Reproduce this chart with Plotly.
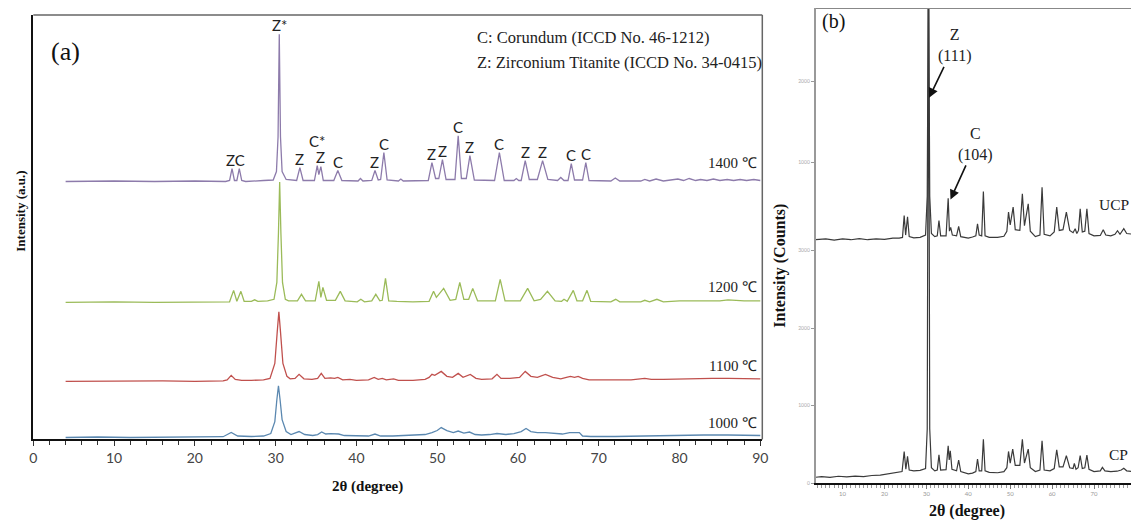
import plotly.graph_objects as go

# ---------------- DATA ----------------
# Panel (a): XRD patterns, (2theta, intensity above the pattern's own baseline, a.u.)
xrd_1400 = [(4, 0), (10, 0.5), (15, 0), (20, 0.5), (23.8, 0), (24.3, 1), (24.6, 13), (24.9, 1), (25.2, 1),
            (25.5, 13), (25.8, 1), (26.3, 0), (28.5, 1), (29.7, 1.5), (30.1, 10), (30.3, 45), (30.45, 148),
            (30.6, 45), (30.8, 10), (31.3, 2), (32.6, 1), (33.0, 14), (33.4, 1), (34.8, 1), (35.15, 16),
            (35.35, 7), (35.6, 15), (35.9, 1), (37.2, 1), (37.7, 11), (38.2, 1), (40.2, 0.5), (40.5, 3),
            (40.8, 0.5), (41.9, 1), (42.3, 11), (42.7, 1.5), (43.0, 2), (43.4, 29), (43.8, 1.5), (45.2, 0.5),
            (45.5, 2.5), (45.8, 0.5), (48.9, 1), (49.35, 19), (49.8, 3), (50.2, 3), (50.65, 22), (51.1, 2),
            (52.2, 2), (52.6, 46), (53.0, 3), (53.6, 3), (54.05, 26), (54.6, 1.5), (57.1, 1), (57.7, 29),
            (58.3, 1), (59.5, 1), (59.8, 3), (60.1, 1), (60.4, 1), (60.9, 21), (61.4, 2), (62.4, 2),
            (63.05, 21), (63.7, 2), (64.9, 1), (65.3, 4), (65.7, 1), (66.2, 1), (66.6, 18), (67.0, 1.5),
            (68.0, 1.5), (68.4, 19), (68.8, 1), (71.5, 0.5), (72.05, 3.5), (72.6, 0.5), (75.2, 0.5), (75.7, 2),
            (76.3, 0.5), (77.1, 2.5), (78.0, 0.5), (79.8, 2.5), (80.5, 1), (81.2, 3), (82.0, 1), (82.6, 2),
            (83.4, 1), (84.2, 2.5), (85.0, 1), (85.9, 2), (86.7, 1), (87.5, 2), (88.3, 1), (89.2, 2), (90, 1)]

xrd_1200 = [(4, 0), (10, 0.5), (15, 0), (20, 0.5), (24.3, 0.5), (24.8, 12), (25.2, 1), (25.7, 11), (26.1, 1),
            (27.0, 1), (27.4, 2.5), (27.8, 1), (29.0, 1.5), (29.8, 3), (30.15, 20), (30.35, 70), (30.5, 121),
            (30.65, 70), (30.85, 20), (31.2, 3), (31.6, 1.5), (32.7, 1.5), (33.2, 8), (33.7, 1.5), (34.9, 1.5),
            (35.35, 21), (35.6, 5), (35.85, 15), (36.3, 2), (37.4, 2), (38.0, 11), (38.6, 1.5), (40.1, 0.5),
            (40.55, 3), (41.0, 0.5), (41.9, 1.5), (42.4, 8), (42.9, 1.5), (43.2, 2), (43.6, 24), (44.0, 1.5),
            (45, 1), (47, 0.5), (49.0, 1), (49.55, 11), (49.9, 5), (50.8, 14), (51.6, 2), (52.3, 3), (52.8, 20),
            (53.3, 3), (53.9, 3), (54.4, 14), (55.0, 1.5), (57.2, 1.5), (57.8, 23), (58.4, 1.5), (60.3, 1.5),
            (61.2, 14), (62.0, 1.5), (62.8, 3), (63.65, 11), (64.6, 1.5), (65.4, 1), (65.7, 3), (66.1, 1),
            (66.85, 12), (67.3, 1.5), (68.0, 1.5), (68.55, 12), (69.0, 1), (71.5, 0.5), (72.1, 3), (72.6, 0.5),
            (75.2, 0.5), (75.7, 2), (76.3, 0.5), (77.2, 3), (78.0, 0.5), (80, 1.5), (82, 1.5), (83, 2),
            (85, 1.5), (86, 2.5), (88, 1.5), (90, 1.5)]

xrd_1100 = [(4, 0), (8, 0.3), (12, 0), (16, 0.5), (20, 0), (23.5, 0.5), (24.0, 1.5), (24.5, 6), (25.0, 2),
            (25.8, 1), (27, 1), (28.5, 1.5), (29.3, 3), (29.9, 18), (30.2, 50), (30.4, 70), (30.6, 50),
            (30.9, 18), (31.4, 5), (31.8, 2.5), (32.4, 3), (32.9, 7), (33.5, 2.5), (34.5, 2), (35.2, 3),
            (35.65, 8), (36.1, 3), (36.8, 3.5), (37.3, 3), (37.7, 4), (38.3, 1.5), (39.2, 2), (40, 1),
            (41.5, 1.5), (42.2, 4), (42.7, 2), (43.2, 3), (43.7, 1.5), (44.6, 2.5), (45.2, 1), (47, 1),
            (48.5, 2), (49.0, 4), (49.35, 7), (49.7, 6), (50.5, 10), (51.2, 5), (51.9, 4), (52.6, 8), (53.2, 4),
            (54.1, 7), (54.8, 3), (55.5, 2), (56.8, 2.5), (57.4, 7), (57.9, 3), (59, 3), (60.2, 4), (60.9, 10),
            (61.6, 5), (62.4, 4), (63.4, 7), (64.3, 4), (65.3, 2.5), (66.0, 4), (66.5, 5), (67.0, 4),
            (67.45, 5), (68.0, 3), (68.8, 1.5), (70, 1.5), (72, 1.5), (74, 1.5), (75.7, 3), (76.5, 2), (78, 2),
            (80, 2.5), (82, 3), (84, 3), (86, 3), (88, 2.5), (90, 2.5)]

xrd_1000 = [(4, 0), (8, 0.5), (12, 0), (16, 0.5), (20, 0.5), (23.5, 0.8), (24.5, 5), (25.3, 1.5), (27, 1),
            (28.5, 1.5), (29.4, 4), (29.9, 16), (30.15, 38), (30.35, 52), (30.55, 38), (30.8, 18), (31.3, 6),
            (31.9, 3), (32.9, 6), (33.6, 3), (34.6, 2), (35.2, 3), (35.7, 5.5), (36.2, 3.5), (36.8, 4),
            (37.4, 3.5), (37.8, 3.5), (38.5, 2), (40, 1.5), (41.5, 1.5), (42.3, 3.5), (43, 1.5), (44.5, 1.5),
            (46, 2), (47.5, 2), (48.5, 3), (49.35, 5), (50, 7), (50.5, 10), (51.2, 7), (52, 5), (52.6, 6.5),
            (53.3, 4.5), (54.0, 5.5), (54.7, 3), (55.5, 2.5), (56.5, 3), (57.4, 4), (58.5, 3), (59.5, 4),
            (60.4, 6), (61.0, 9), (61.6, 6), (62.4, 5), (63.4, 5), (64.5, 4), (65.5, 3.5), (66.4, 5),
            (67.2, 5), (67.6, 5), (68.0, 1.5), (69, 1), (72, 1), (75, 1.5), (78, 1.5), (80, 2), (83, 2.5),
            (86, 2.5), (88, 2), (90, 2)]

temps = ["1400 ℃", "1200 ℃", "1100 ℃", "1000 ℃"]

# phase labels on the 1400 ℃ pattern ("ZC" is a doublet at 24.6 / 25.5)
peak_labels = ["ZC", "Z*", "Z", "C*", "Z", "C", "Z", "C", "Z", "Z", "C", "Z", "C", "Z", "Z", "C", "C"]
peak_label_2theta = [25.05, 30.45, 33.0, 35.15, 35.6, 37.7, 42.3, 43.4, 49.35, 50.65, 52.6, 54.05,
                     57.7, 60.9, 63.05, 66.6, 68.4]

legend_lines = ["C: Corundum (ICCD No. 46-1212)", "Z: Zirconium Titanite (ICCD No. 34-0415)"]

# Panel (b): counts
xrd_ucp = [(3.6, 3140), (6, 3150), (8, 3135), (10, 3150), (12, 3140), (14, 3155), (16, 3140), (18, 3150),
           (20, 3145), (22, 3160), (23.5, 3160), (24.3, 3170), (24.7, 3452), (25.05, 3200), (25.5, 3436),
           (25.9, 3180), (27, 3165), (28.5, 3170), (29.8, 3200), (30.2, 3700), (30.5, 7000), (30.8, 3700),
           (31.2, 3220), (32.0, 3180), (32.6, 3190), (33.0, 3388), (33.4, 3190), (34.7, 3190), (35.2, 3675),
           (35.5, 3250), (35.8, 3300), (36.2, 3200), (37.2, 3190), (37.7, 3311), (38.2, 3180), (40, 3160),
           (41, 3175), (41.8, 3190), (42.2, 3346), (42.6, 3200), (43.2, 3190), (43.6, 3760), (44.0, 3190),
           (45, 3170), (47, 3170), (48.5, 3185), (49.2, 3250), (49.6, 3496), (50.0, 3330), (50.7, 3560),
           (51.2, 3270), (52.3, 3260), (52.9, 3731), (53.4, 3320), (54.3, 3602), (54.8, 3250), (56, 3180),
           (57.1, 3200), (57.6, 3817), (58.1, 3210), (59.5, 3190), (60.5, 3240), (61.1, 3560), (61.7, 3260),
           (62.6, 3270), (63.4, 3496), (64.2, 3260), (65.0, 3230), (65.5, 3282), (65.9, 3220), (66.3, 3260),
           (66.7, 3538), (67.2, 3240), (67.8, 3250), (68.3, 3538), (68.8, 3220), (70, 3190), (71.5, 3195),
           (72.2, 3269), (72.8, 3200), (74, 3190), (75.0, 3210), (75.6, 3256), (76.2, 3210), (77.1, 3282),
           (77.8, 3220), (79.5, 3210)]

xrd_cp = [(3.6, 77), (5, 85), (7, 75), (9, 90), (11, 82), (13, 92), (15, 85), (17, 100), (19, 105), (20, 115),
          (21.5, 125), (23, 140), (24.2, 150), (24.7, 410), (25.1, 180), (25.5, 346), (25.9, 170), (27, 160),
          (28.5, 165), (29.8, 190), (30.2, 700), (30.5, 7000), (30.8, 700), (31.2, 200), (32.0, 160),
          (32.6, 170), (33.0, 368), (33.4, 170), (34.7, 175), (35.2, 483), (35.45, 300), (35.7, 419),
          (36.1, 180), (37.2, 160), (37.7, 299), (38.2, 150), (40, 120), (41, 130), (41.8, 150), (42.2, 312),
          (42.6, 160), (43.2, 160), (43.6, 568), (44.0, 160), (45, 140), (47, 135), (48.5, 150), (49.2, 200),
          (49.6, 410), (50.0, 260), (50.6, 440), (51.2, 230), (52.3, 230), (52.9, 568), (53.4, 260),
          (54.3, 440), (54.8, 200), (56, 150), (57.1, 170), (57.6, 547), (58.1, 170), (59.5, 160), (60.5, 190),
          (61.1, 432), (61.7, 210), (62.6, 210), (63.4, 355), (64.2, 200), (65.0, 190), (65.3, 256),
          (65.7, 180), (66.2, 200), (66.7, 355), (67.2, 190), (67.8, 200), (68.3, 363), (68.8, 180), (70, 150),
          (71.5, 160), (72.0, 205), (72.6, 160), (74, 150), (75.5, 155), (76.5, 170), (77.1, 192), (77.8, 160),
          (79.5, 150)]

b_tickvals = [0, 1000, 2000, 3000, 4140, 5180]
b_ticktext = ["0", "1000", "2000", "3000", "1000", "2000"]

# ---------------- STYLE ----------------
SERIF = "Liberation Serif, Times New Roman, serif"
SANS = "Lato, Open Sans, sans-serif"
PAGE_OFF = 8                       # default body margin of the html page
W, H = 1139 - PAGE_OFF, 527 - PAGE_OFF

patterns_a = [xrd_1400, xrd_1200, xrd_1100, xrd_1000]
offsets_a = [259.5, 138, 58.5, 2]
colors_a = ["#8D7BAB", "#9BBB59", "#C0504D", "#5B88B0"]
temp_label_lift = [19, 15.5, 15.5, 15]


def px(x):
    return min(1.0, max(0.0, (x - PAGE_OFF) / W))


def py(y):
    return min(1.0, max(0.0, 1 - (y - PAGE_OFF) / H))


def paper_text(x, y, text, size, color="#111", angle=0, anchor="center"):
    return dict(x=px(x), y=py(y), xref="paper", yref="paper", text=text, showarrow=False,
                xanchor=anchor, yanchor="middle", textangle=angle,
                font=dict(family=SERIF, size=size, color=color))


fig = go.Figure()

for pat, off, col in zip(patterns_a, offsets_a, colors_a):
    fig.add_trace(go.Scatter(x=[p[0] for p in pat], y=[p[1] + off for p in pat], mode="lines",
                             line=dict(color=col, width=1.3), xaxis="x", yaxis="y",
                             showlegend=False, hoverinfo="skip"))

for pat in [xrd_ucp, xrd_cp]:
    fig.add_trace(go.Scatter(x=[p[0] for p in pat], y=[p[1] for p in pat], mode="lines",
                             line=dict(color="#3A3A3A", width=1.2), xaxis="x2", yaxis="y2",
                             showlegend=False, hoverinfo="skip"))

ann = []
# phase letters on 1400 pattern
for lab, x0 in zip(peak_labels, peak_label_2theta):
    apex = max(h for x, h in xrd_1400 if abs(x - x0) <= 0.46)
    ys = -2
    if lab == "C*":
        ys = 14
    ann.append(dict(x=x0, y=offsets_a[0] + apex, xref="x", yref="y", text=lab, showarrow=False,
                    xanchor="center", yanchor="bottom", yshift=ys,
                    font=dict(family=SANS, size=15, color="#222")))

# temperature labels
for t, off, lift in zip(temps, offsets_a, temp_label_lift):
    ann.append(dict(x=89.9, y=off + lift, xref="x", yref="y", text=t, showarrow=False, xanchor="right",
                    yanchor="middle", font=dict(family=SERIF, size=15, color="#222")))

# panel (a) texts
ann.append(paper_text(475, 37.7, legend_lines[0], 16.5, "#222", anchor="left"))
ann.append(paper_text(475, 63.3, legend_lines[1], 16.5, "#222", anchor="left"))
ann.append(paper_text(62, 52, "(a)", 26))
ann.append(paper_text(17, 212, "<b>Intensity (a.u.)</b>", 13, angle=-90))
ann.append(paper_text(367, 489, "<b>2θ (degree)</b>", 15))

# panel (b) texts
ann.append(paper_text(837, 22, "(b)", 20))
ann.append(paper_text(782, 267, "<b>Intensity (Counts)</b>", 16, angle=-90))
ann.append(paper_text(972, 514, "<b>2θ (degree)</b>", 16))
ann.append(paper_text(1120, 206, "UCP", 15.5, "#222"))
ann.append(paper_text(1124, 457, "CP", 15.5, "#222"))
ann.append(dict(x=30.64, y=4970, xref="x2", yref="y2", text="Z<br>(111)", showarrow=True,
                ax=25, ay=-52, arrowhead=2, arrowsize=1.2, arrowwidth=1.6, arrowcolor="#111",
                font=dict(family=SERIF, size=16, color="#222")))
ann.append(dict(x=35.75, y=3660, xref="x2", yref="y2", text="C<br>(104)", showarrow=True,
                ax=25, ay=-55, arrowhead=2, arrowsize=1.2, arrowwidth=1.6, arrowcolor="#111",
                font=dict(family=SERIF, size=16, color="#222")))

shapes = [
    dict(type="line", xref="x domain", yref="y domain", x0=0, x1=1, y0=1, y1=1,
         line=dict(color="#666", width=1.5)),
    dict(type="line", xref="x domain", yref="y domain", x0=1, x1=1, y0=0, y1=1,
         line=dict(color="#666", width=1.5)),
    dict(type="line", xref="x2 domain", yref="y2 domain", x0=0, x1=1, y0=1, y1=1,
         line=dict(color="#888", width=2)),
]

fig.update_layout(
    width=W, height=H, margin=dict(l=0, r=0, t=0, b=0),
    paper_bgcolor="white", plot_bgcolor="white", showlegend=False,
    annotations=ann, shapes=shapes,
    xaxis=dict(domain=[px(29.5), px(765)], range=[0, 90.25], dtick=10, tick0=0,
               showline=True, linecolor="#111", linewidth=1.5, ticks="outside", ticklen=5,
               tickcolor="#333", showgrid=False, zeroline=False,
               minor=dict(dtick=2, ticks="outside", ticklen=4, tickcolor="#333", showgrid=False),
               tickfont=dict(family=SANS, size=14, color="#444"), anchor="y"),
    yaxis=dict(domain=[py(442), py(15)], range=[0, 427], showline=True, linecolor="#111", linewidth=1.5,
               showticklabels=False, ticks="", showgrid=False, zeroline=False, anchor="x"),
    xaxis2=dict(domain=[px(819), 1.0], range=[3.62, 79.3], dtick=10, tick0=0,
                showline=True, linecolor="#111", linewidth=2, ticks="outside", ticklen=4,
                tickcolor="#777", showgrid=False, zeroline=False,
                minor=dict(dtick=1, ticks="outside", ticklen=3, tickcolor="#999", showgrid=False),
                tickfont=dict(family=SANS, size=6, color="#999"), anchor="y2"),
    yaxis2=dict(domain=[py(486), py(8)], range=[0, 6128], tickvals=b_tickvals, ticktext=b_ticktext,
                showline=True, linecolor="#999", linewidth=2, ticks="outside", ticklen=3, tickcolor="#999",
                tickfont=dict(family=SANS, size=5, color="#aaa"), showgrid=False, zeroline=False,
                anchor="x2"),
)

fig.write_html("out.html")
